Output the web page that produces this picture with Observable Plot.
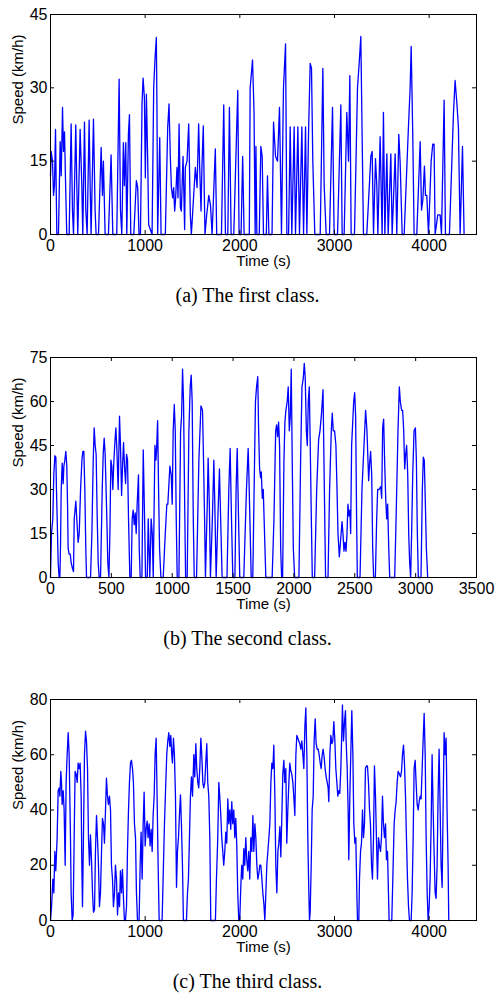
<!DOCTYPE html>
<html>
<head>
<meta charset="utf-8">
<script src="https://cdn.jsdelivr.net/npm/d3@7"></script>
<script src="https://cdn.jsdelivr.net/npm/@observablehq/plot@0.6"></script>
<style>
  body { margin: 0; background: #fff; }
  #page { position: relative; width: 495px; height: 993px; overflow: hidden; background: #fff; }
  .panel { position: absolute; left: 0; width: 495px; }
  .panel svg { display: block; }
  .caption {
    position: absolute; left: 0; width: 495px; text-align: center;
    font-family: "Liberation Serif", "Times New Roman", serif;
    font-size: 20px; line-height: 20px; color: #000;
  }
</style>
</head>
<body>
<div id="page"></div>
<script>
// Speed traces, [time (s), speed (km/h)]
const firstClass = [
  [0,12],[7,17],[21,15],[32,8],[42,10],[53,21.5],[60,10],[67,0],[84,0],[102,19],[113,12],[127,26],[137,17],[148,21],[162,8],[172,0],[197,0],[218,22.6],[232,5],[243,0],[267,22.4],[278,10],[288,0],[313,21.5],[331,10],[341,0],[359,23],[373,5],[387,0],[408,23.4],[419,10],[429,0],[454,23.6],[471,5],[482,0],[507,0],[535,17.8],[549,8],[559,15],[577,0],[612,0],[640,16.3],[658,0],[700,0],[725,31.8],[739,5],[753,0],[770,18.8],[781,10],[795,18.8],[806,0],[823,20.5],[834,24.5],[848,0],[880,0],[907,11],[921,9.6],[935,0],[950,0],[967,26.7],[978,32],[992,28],[1002,11.6],[1013,28.7],[1027,15],[1037,2],[1073,0],[1090,30],[1104,36],[1118,40.3],[1125,25],[1132,0],[1154,19.8],[1168,0],[1213,0],[1238,21.9],[1252,26.7],[1266,15.7],[1277,9.6],[1291,7.5],[1301,9.6],[1312,4.8],[1322,7.5],[1336,13.7],[1347,7.5],[1358,22.6],[1372,5.5],[1382,4.8],[1400,16],[1407,10],[1417,1],[1424,13.7],[1442,15],[1460,22.6],[1477,4],[1488,0],[1530,13.7],[1548,9.6],[1565,22.6],[1576,13.7],[1590,4.8],[1600,14],[1614,22.2],[1625,8],[1632,0],[1650,4],[1672,8],[1690,6],[1707,0],[1741,17.5],[1756,0],[1806,0],[1830,26.5],[1848,0],[1873,0],[1890,26],[1908,0],[1936,0],[1978,29.5],[1992,0],[2013,0],[2030,16],[2045,0],[2100,0],[2109,30],[2127,34],[2134,35.7],[2150,25],[2162,0],[2170,18],[2180,0],[2205,0],[2222,18],[2236,16],[2250,0],[2280,0],[2292,12],[2307,0],[2340,0],[2356,23],[2377,16],[2398,15],[2419,26],[2440,0],[2461,30],[2483,39],[2497,0],[2515,0],[2532,22],[2549,0],[2574,22],[2588,0],[2613,22],[2630,0],[2655,22],[2673,0],[2694,22],[2708,0],[2725,20],[2743,35],[2757,34],[2771,15],[2792,0],[2849,0],[2877,34],[2891,10],[2912,0],[2947,0],[2979,26],[2996,0],[3032,0],[3067,26.5],[3081,0],[3102,0],[3130,25],[3148,15],[3162,32.5],[3176,0],[3211,0],[3243,30],[3264,36],[3278,40.5],[3292,20],[3306,0],[3341,0],[3384,16],[3398,17],[3412,0],[3433,15.5],[3447,10],[3458,0],[3482,20],[3503,0],[3517,25],[3532,0],[3553,16.5],[3567,0],[3595,16.5],[3609,0],[3641,16.5],[3658,0],[3679,20.5],[3693,15],[3715,0],[3736,0],[3778,20.5],[3799,30],[3810,38.5],[3827,20],[3841,0],[3869,0],[3905,19],[3919,5],[3933,7],[3950,14],[3961,8],[3975,8],[3993,0],[4021,15],[4038,18.5],[4052,18.5],[4063,0],[4091,4],[4116,4],[4130,0],[4158,27.5],[4172,0],[4214,0],[4257,25],[4274,31.5],[4292,27],[4309,22],[4327,0],[4352,18],[4369,0]
];

const secondClass = [
  [0,0],[8,15],[19,20],[27,35],[36,41.5],[44,41],[49,30],[55,20],[63,5],[71,0],[77,0],[82,10],[88,30],[96,39],[104,32],[110,38],[118,40],[126,43],[134,38],[140,25],[145,10],[153,8],[162,8],[170,5],[181,3],[189,2],[195,20],[208,26],[216,20],[227,12],[236,15],[247,30],[258,40],[266,43],[274,43],[282,30],[290,10],[296,0],[329,0],[340,15],[351,40],[359,51],[367,45],[375,42],[384,20],[392,5],[400,0],[411,0],[425,30],[433,42],[441,47.5],[449,42],[460,25],[471,5],[480,0],[488,15],[496,40],[504,38],[512,30],[521,40],[529,46],[537,51],[545,44],[556,30],[567,55],[575,45],[584,28],[592,38],[600,46],[608,38],[617,32],[625,42],[633,40],[641,20],[652,0],[663,0],[671,20],[679,23],[688,18],[696,22],[704,15],[712,25],[723,35],[729,10],[737,0],[751,0],[762,43.5],[773,20],[781,0],[795,0],[803,20],[816,0],[827,20],[836,15],[844,0],[858,45],[866,40],[871,43],[880,53.5],[888,30],[896,10],[907,0],[926,0],[943,15],[956,25],[964,25],[981,38],[992,35],[1000,25],[1008,50],[1017,59],[1025,50],[1033,20],[1041,0],[1055,0],[1069,50],[1077,55],[1085,71],[1093,60],[1101,30],[1110,0],[1123,0],[1137,50],[1148,65],[1156,69],[1164,60],[1173,20],[1181,0],[1200,0],[1219,40],[1236,58.5],[1249,57],[1255,45],[1266,20],[1273,0],[1288,25],[1295,40.7],[1305,25],[1314,0],[1330,20],[1342,40],[1350,25],[1361,0],[1375,20],[1388,37],[1398,20],[1410,0],[1450,0],[1465,30],[1476,44],[1487,20],[1498,0],[1515,0],[1525,30],[1534,44],[1545,20],[1555,0],[1588,0],[1610,30],[1624,44],[1630,35],[1649,0],[1662,0],[1684,60],[1693,65],[1703,68.5],[1710,50],[1718,37],[1726,34],[1732,36],[1740,27],[1748,30],[1755,20],[1769,0],[1821,0],[1836,20],[1850,50],[1858,52],[1866,48],[1874,53],[1882,45],[1891,10],[1899,0],[1907,0],[1918,40],[1926,53],[1934,57],[1945,60],[1953,65],[1962,50],[1970,55],[1978,71],[1986,40],[1995,10],[2006,0],[2041,0],[2055,40],[2066,65],[2077,68],[2085,73],[2093,68],[2102,50],[2110,45],[2118,60],[2126,65],[2134,45],[2143,20],[2151,0],[2170,0],[2187,30],[2203,47],[2214,50],[2225,55],[2239,64],[2250,30],[2260,0],[2280,0],[2293,30],[2307,50],[2315,56],[2323,50],[2334,50],[2345,45],[2354,30],[2362,15],[2373,7],[2384,13],[2395,19],[2403,15],[2411,9],[2419,12],[2428,9],[2436,15],[2444,25],[2452,21],[2460,23],[2466,15],[2474,45],[2482,52],[2491,60],[2499,63],[2507,55],[2515,20],[2521,0],[2543,0],[2559,30],[2589,57],[2600,50],[2614,33],[2622,39],[2630,43],[2639,35],[2647,10],[2655,0],[2669,0],[2680,20],[2688,30],[2699,30],[2713,31],[2721,27],[2729,51],[2737,54],[2745,40],[2754,27],[2762,20],[2770,25],[2779,10],[2787,0],[2828,0],[2842,25],[2855,50],[2866,65],[2874,60],[2885,57],[2893,57],[2902,50],[2910,37],[2918,42],[2926,45],[2935,35],[2943,15],[2951,5],[2959,0],[2967,15],[2976,35],[2987,50],[2998,51],[3006,40],[3014,15],[3022,0],[3044,0],[3055,30],[3063,41],[3071,40],[3080,25],[3088,10],[3099,0]
];

const thirdClass = [
  [0,0],[11,5],[25,15],[35,10],[46,25],[56,18],[70,30],[81,47],[92,48],[99,45],[109,54],[116,50],[123,42],[134,47],[144,40],[155,20],[165,50],[176,60],[187,68],[197,60],[204,45],[211,30],[218,10],[229,0],[239,2],[250,30],[260,54],[271,53],[282,50],[292,57],[303,55],[313,57],[324,45],[331,20],[338,5],[348,30],[359,60],[370,68.5],[380,65],[391,55],[401,30],[412,20],[422,31],[433,22],[444,10],[454,3],[465,4],[475,25],[486,38],[496,30],[507,20],[517,5],[528,10],[539,25],[549,37],[560,35],[570,28],[581,40],[591,51.5],[602,45],[612,42],[623,45],[634,40],[644,20],[655,15],[665,5],[676,10],[686,20],[697,15],[708,2],[718,10],[729,5],[739,18],[750,10],[760,18.5],[771,8],[781,0],[792,0],[803,5],[813,25],[824,40],[834,50],[845,57],[855,58],[866,55],[876,50],[887,35],[898,30],[908,10],[919,0],[936,0],[947,20],[957,32],[968,15],[979,35],[989,46.5],[1000,27],[1010,33],[1021,36],[1031,30],[1042,35],[1052,27],[1063,33],[1074,25],[1084,38],[1095,45],[1105,60],[1116,66],[1126,45],[1137,20],[1148,0],[1179,0],[1193,20],[1204,35],[1218,50],[1228,60],[1239,65],[1250,68],[1260,63],[1271,67],[1281,60],[1288,57],[1299,66],[1309,60],[1320,45],[1331,12],[1341,25],[1352,30],[1362,38],[1373,45.5],[1383,35],[1394,20],[1404,0],[1436,0],[1447,10],[1457,15],[1468,30],[1478,45],[1489,52],[1500,45],[1514,60],[1524,52],[1535,64],[1545,55],[1556,50],[1566,48],[1577,55],[1588,66],[1598,60],[1609,50],[1619,48],[1630,50],[1640,57],[1651,64],[1661,50],[1672,45],[1683,30],[1693,0],[1742,0],[1753,15],[1767,30],[1778,50],[1788,45],[1799,38],[1809,30],[1820,25],[1830,20],[1841,25],[1852,32],[1862,28],[1873,44],[1883,35],[1894,40],[1904,33],[1915,43],[1925,35],[1936,40],[1947,30],[1957,37],[1968,27],[1978,10],[1989,0],[1999,0],[2010,12],[2020,20],[2031,15],[2042,26],[2052,20],[2063,30],[2073,22],[2084,18],[2094,25],[2105,15],[2116,30],[2127,25],[2138,38],[2148,25],[2159,35],[2169,30],[2180,20],[2190,15],[2201,17],[2211,20],[2222,20],[2233,15],[2243,10],[2254,6],[2264,0],[2275,10],[2285,20],[2296,25],[2307,30],[2317,35],[2328,50],[2338,57],[2349,55],[2359,63.5],[2370,45],[2380,20],[2391,10],[2402,25],[2412,28],[2423,34],[2433,23],[2444,38],[2454,53],[2465,58],[2475,50],[2486,55],[2496,28],[2507,40],[2518,50],[2528,57],[2539,54],[2549,53],[2560,50],[2570,45],[2581,38],[2592,60],[2602,67],[2613,66],[2623,65],[2634,64],[2644,62],[2655,65],[2666,60],[2676,55],[2687,70],[2697,77],[2708,60],[2718,30],[2729,10],[2736,0],[2743,3],[2754,20],[2764,40],[2775,45],[2785,65],[2796,73],[2806,64],[2817,62],[2828,62],[2838,60],[2849,57],[2859,55],[2870,60],[2880,62],[2891,59],[2901,55],[2912,52],[2923,50],[2933,48],[2940,43],[2951,60],[2961,67],[2972,64],[2982,65],[2993,72],[3004,65],[3014,55],[3025,50],[3035,45],[3046,47],[3056,46],[3067,55],[3077,68],[3084,78],[3095,65],[3106,72],[3116,76],[3123,65],[3134,55],[3144,40],[3151,22],[3162,45],[3172,60],[3183,76],[3194,60],[3204,35],[3215,28],[3225,30],[3236,10],[3243,0],[3257,0],[3264,15],[3275,25],[3285,28],[3296,40],[3306,30],[3317,35],[3327,55],[3338,56],[3348,56],[3359,50],[3370,40],[3380,35],[3391,20],[3401,15],[3412,30],[3422,56],[3433,45],[3443,30],[3454,15],[3465,30],[3475,27],[3486,25],[3496,30],[3507,45],[3517,35],[3528,30],[3539,35],[3549,22],[3560,25],[3570,10],[3577,0],[3605,0],[3616,15],[3630,35],[3641,40],[3651,43],[3662,50],[3672,54],[3686,53],[3697,52],[3708,54],[3718,60],[3729,63.5],[3739,57],[3750,45],[3760,30],[3771,15],[3782,5],[3792,0],[3810,0],[3820,10],[3831,30],[3841,55],[3852,58],[3862,50],[3873,42],[3884,40],[3894,43],[3905,45],[3915,44],[3926,55],[3936,65],[3947,75],[3958,60],[3968,30],[3979,10],[3989,0],[4000,5],[4010,15],[4021,35],[4031,60],[4042,40],[4052,25],[4063,10],[4073,8],[4084,20],[4094,45],[4105,62],[4116,40],[4126,20],[4137,12],[4147,40],[4158,68],[4168,60],[4179,66],[4189,40],[4200,20],[4207,0]
];

// Axis domains and tick labels
const timeTicksA = [0, 1000, 2000, 3000, 4000];
const timeTicksB = [0, 500, 1000, 1500, 2000, 2500, 3000, 3500];
const speedTicksA = [0, 15, 30, 45];
const speedTicksB = [0, 15, 30, 45, 60, 75];
const speedTicksC = [0, 20, 40, 60, 80];
const captions = ["(a) The first class.", "(b) The second class.", "(c) The third class."];

const FONT = '"Liberation Sans", Arial, Helvetica, sans-serif';
const WIDTH = 495, MARGIN_LEFT = 50, MARGIN_RIGHT = 19;
const TICK = 4; // inward tick length, px

function speedPanel(trace, {xDomain, xTicks, yDomain, yTicks, plotHeight}) {
  const marginTop = 10, marginBottom = 45;
  const plotWidth = WIDTH - MARGIN_LEFT - MARGIN_RIGHT;
  const plain = d => String(d);
  return Plot.plot({
    width: WIDTH,
    height: plotHeight + marginTop + marginBottom,
    marginLeft: MARGIN_LEFT, marginRight: MARGIN_RIGHT, marginTop, marginBottom,
    style: {fontFamily: FONT, fontSize: "16px", fontWeight: "normal", color: "#000", background: "transparent", overflow: "visible"},
    x: {domain: xDomain},
    y: {domain: yDomain},
    marks: [
      Plot.line(trace, {x: d => d[0], y: d => d[1], stroke: "#0000ff", strokeWidth: 1.3}),
      // inward ticks on all four sides
      Plot.tickX(xTicks, {x: d => d, insetTop: plotHeight - TICK, stroke: "#000"}),
      Plot.tickX(xTicks, {x: d => d, insetBottom: plotHeight - TICK, stroke: "#000"}),
      Plot.tickY(yTicks, {y: d => d, insetRight: plotWidth - TICK, stroke: "#000"}),
      Plot.tickY(yTicks, {y: d => d, insetLeft: plotWidth - TICK, stroke: "#000"}),
      Plot.frame({stroke: "#000", strokeWidth: 1}),
      // tick labels
      Plot.axisX(xTicks, {anchor: "bottom", tickSize: 0, tickPadding: 5, label: null, tickFormat: plain, fontSize: 16}),
      Plot.axisY(yTicks, {anchor: "left", tickSize: 0, tickPadding: 3, label: null, tickFormat: plain, fontSize: 16}),
      // axis titles
      Plot.text(["Time (s)"], {frameAnchor: "bottom", dy: 31, fontSize: 15, fontWeight: "normal"}),
      Plot.text(["Speed (km/h)"], {frameAnchor: "left", dx: -32, rotate: -90, fontSize: 15, fontWeight: "normal"})
    ]
  });
}

const page = document.getElementById("page");
const panels = [
  {trace: firstClass, xDomain: [0, 4500], xTicks: timeTicksA, yDomain: [0, 45], yTicks: speedTicksA, plotTop: 14, plotHeight: 220},
  {trace: secondClass, xDomain: [0, 3500], xTicks: timeTicksB, yDomain: [0, 75], yTicks: speedTicksB, plotTop: 357, plotHeight: 220},
  {trace: thirdClass, xDomain: [0, 4500], xTicks: timeTicksA, yDomain: [0, 80], yTicks: speedTicksC, plotTop: 699, plotHeight: 221}
];

panels.forEach((p, i) => {
  const holder = document.createElement("div");
  holder.className = "panel";
  holder.style.top = (p.plotTop - 10) + "px";
  holder.appendChild(speedPanel(p.trace, p));
  page.appendChild(holder);

  const cap = document.createElement("div");
  cap.className = "caption";
  cap.style.top = (p.plotTop + p.plotHeight + 61 - 10) + "px";
  cap.textContent = captions[i];
  page.appendChild(cap);
});
</script>
</body>
</html>
